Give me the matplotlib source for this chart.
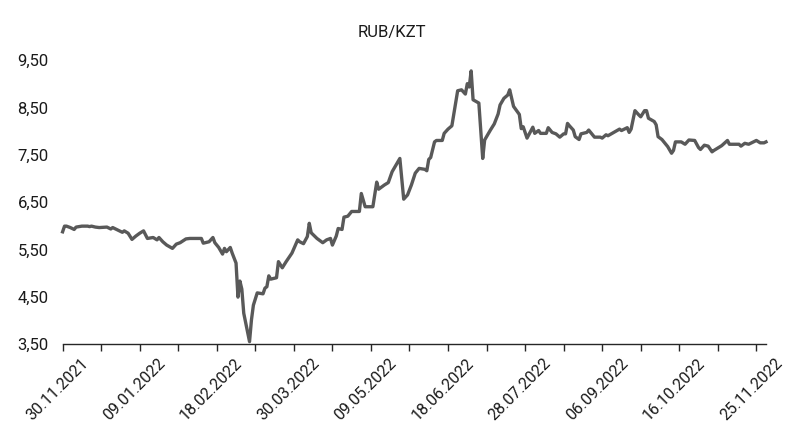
import matplotlib
matplotlib.use('Agg')
import matplotlib.pyplot as plt
import matplotlib.transforms as mtransforms
import numpy as np
import pandas as pd

# RUB/KZT rate; days counted from the start date
start = '2021-11-30'
days = [0, 1, 2, 4, 6, 7, 10, 13, 14, 15, 17, 19, 23, 25, 26, 28, 31, 32, 34, 36,
        38, 40, 42, 44, 47, 49, 50, 52, 54, 57, 59, 61, 64, 66, 72, 73, 76, 78, 79, 81,
        83, 84, 85, 87, 88, 90, 91, 92, 93, 94, 97, 98, 99, 101, 104, 105, 106, 107, 108, 111,
        112, 114, 116, 119, 122, 123, 125, 127, 128, 129, 132, 135, 137, 139, 140, 142, 143, 145, 146, 148,
        150, 154, 155, 157, 161, 163, 164, 167, 169, 171, 173, 175, 177, 179, 181, 183, 185, 188, 189, 190,
        191, 193, 194, 197, 198, 200, 202, 205, 207, 209, 210, 211, 212, 213, 216, 218, 219, 222, 224, 226,
        227, 229, 231, 232, 234, 237, 238, 239, 241, 244, 245, 247, 248, 251, 252, 254, 256, 258, 260, 261,
        262, 263, 265, 266, 268, 269, 272, 273, 274, 276, 279, 280, 282, 283, 286, 289, 290, 293, 294, 295,
        297, 299, 300, 302, 303, 304, 307, 308, 309, 311, 314, 316, 317, 318, 321, 323, 325, 328, 330, 331,
        333, 335, 337, 338, 342, 345, 346, 351, 352, 354, 356, 360, 362, 364, 365]
rates = [5.87, 5.99, 5.99, 5.96, 5.92, 5.97, 5.99, 5.99, 5.98, 5.99, 5.97, 5.96, 5.97, 5.93, 5.96, 5.92, 5.86, 5.89, 5.84, 5.71,
         5.78, 5.84, 5.89, 5.73, 5.75, 5.70, 5.75, 5.66, 5.59, 5.52, 5.61, 5.64, 5.72, 5.73, 5.73, 5.63, 5.66, 5.75, 5.64, 5.54,
         5.40, 5.52, 5.45, 5.54, 5.42, 5.21, 4.49, 4.83, 4.66, 4.15, 3.55, 4.01, 4.32, 4.58, 4.56, 4.68, 4.71, 4.94, 4.87, 4.90,
         5.24, 5.11, 5.24, 5.42, 5.70, 5.66, 5.62, 5.77, 6.05, 5.85, 5.73, 5.64, 5.70, 5.73, 5.59, 5.78, 5.94, 5.92, 6.18, 6.20,
         6.30, 6.30, 6.68, 6.40, 6.40, 6.92, 6.77, 6.86, 6.91, 7.14, 7.28, 7.42, 6.56, 6.65, 6.86, 7.11, 7.21, 7.19, 7.16, 7.40,
         7.44, 7.77, 7.80, 7.80, 7.95, 8.04, 8.11, 8.85, 8.87, 8.78, 9.00, 8.93, 9.27, 8.66, 8.59, 7.42, 7.81, 8.02, 8.15, 8.36,
         8.55, 8.69, 8.76, 8.87, 8.52, 8.35, 8.05, 8.09, 7.85, 8.08, 7.95, 8.01, 7.95, 7.95, 8.07, 7.97, 7.94, 7.87, 7.94, 7.94,
         8.16, 8.11, 8.02, 7.88, 7.82, 7.94, 7.97, 8.02, 7.97, 7.87, 7.87, 7.85, 7.92, 7.90, 7.97, 8.04, 8.01, 8.07, 7.97, 8.04,
         8.43, 8.34, 8.30, 8.43, 8.43, 8.27, 8.20, 8.13, 7.88, 7.82, 7.67, 7.53, 7.59, 7.77, 7.77, 7.72, 7.81, 7.80, 7.65, 7.61,
         7.70, 7.68, 7.56, 7.59, 7.69, 7.80, 7.72, 7.72, 7.68, 7.74, 7.72, 7.80, 7.75, 7.75, 7.77]
title = 'RUB/KZT'
yticks = [3.5, 4.5, 5.5, 6.5, 7.5, 8.5, 9.5]

plt.rcParams['font.family'] = ['Roboto', 'DejaVu Sans']

dates = pd.to_datetime(start) + pd.to_timedelta(days, unit='D')

fig = plt.figure(figsize=(7.85, 4.47), dpi=100)
ax = fig.add_axes([62.6 / 785, 103 / 447, (766 - 62.6) / 785, 284 / 447])
ax.plot(dates, rates, color='#595959', lw=2.4, solid_joinstyle='round', clip_on=False)

ax.set_xlim(dates[0], dates[-1])
ax.set_ylim(yticks[0], yticks[-1])

ticks = pd.date_range(dates[0], dates[-1], freq='20D')
ax.set_xticks(ticks)
ax.set_xticklabels([d.strftime('%d.%m.%Y') if i % 2 == 0 else '' for i, d in enumerate(ticks)],
                   rotation=45, ha='right', rotation_mode='anchor', fontsize=11.5, color='#1a1a1a')
ax.tick_params(axis='x', direction='out', length=5, width=1, color='#262626', pad=3)
# Excel puts the rotated labels a bit right of the tick
shift = mtransforms.ScaledTranslation(18 / 100, 0, fig.dpi_scale_trans)
for lbl in ax.get_xticklabels():
    lbl.set_transform(lbl.get_transform() + shift)

ax.set_yticks(yticks)
ax.set_yticklabels([('%.2f' % v).replace('.', ',') for v in yticks], fontsize=12, color='#1a1a1a')
ax.tick_params(axis='y', length=0, pad=10)

for s in ['top', 'right', 'left']:
    ax.spines[s].set_visible(False)
ax.spines['bottom'].set_color('#262626')
ax.spines['bottom'].set_linewidth(1)

fig.text(392 / 785, 1 - 33 / 447, title, ha='center', va='center', fontsize=12, color='#1a1a1a')

fig.savefig('out.png', dpi=100)
